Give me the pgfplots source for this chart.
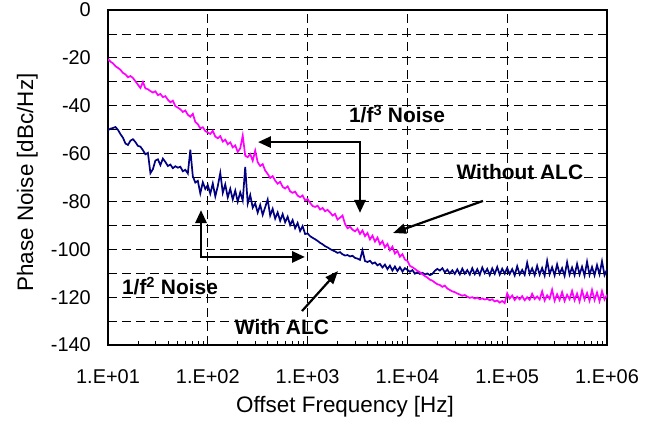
\documentclass[border=0pt]{standalone}
\usepackage{pgfplots}
\pgfplotsset{compat=1.18}
\usepackage{pgfplotstable}
\usepackage{fontspec}
\setmainfont{Liberation Sans}
\usetikzlibrary{arrows.meta}
\definecolor{pinkc}{HTML}{FF00FF}
\definecolor{navyc}{HTML}{000080}

\pgfplotstableread{
f wo w
10.00 -20.5 -50.2
10.59 -21.6 -49.6
11.22 -22.3 -49.3
11.89 -23.5 -48.9
12.59 -24.2 -50.1
13.34 -25.0 -51.9
14.13 -26.3 -53.4
14.96 -26.9 -55.8
15.85 -28.1 -56.4
16.79 -27.6 -54.6
17.78 -28.4 -54.0
18.84 -29.8 -55.2
19.95 -31.2 -56.8
21.13 -32.6 -57.1
22.39 -30.1 -58.6
23.71 -32.8 -60.3
25.12 -33.1 -59.7
26.61 -33.9 -68.2
28.18 -34.5 -66.5
29.85 -34.0 -62.9
31.62 -35.6 -62.4
33.50 -35.1 -64.8
35.48 -36.4 -62.1
37.58 -36.0 -63.5
39.81 -37.5 -65.2
42.17 -38.6 -64.6
44.67 -37.9 -66.1
47.32 -40.2 -65.3
50.12 -40.8 -65.9
53.09 -41.5 -65.5
56.23 -42.6 -67.4
59.57 -42.0 -66.8
63.10 -43.8 -68.3
66.83 -44.6 -58.4
70.79 -43.4 -69.5
74.99 -46.8 -72.1
79.43 -47.7 -71.4
84.14 -49.5 -76.6
89.13 -49.0 -72.0
94.41 -50.6 -74.8
100.0 -51.2 -73.2
105.9 -51.8 -76.8
112.2 -50.5 -72.5
118.9 -52.9 -77.9
125.9 -53.6 -73.6
133.4 -52.7 -68.1
141.3 -55.0 -76.4
149.6 -54.2 -72.9
158.5 -56.1 -78.3
167.9 -55.3 -74.7
177.8 -57.4 -79.2
188.4 -56.6 -75.5
199.5 -59.3 -80.1
211.3 -57.8 -76.2
223.9 -52.5 -79.6
237.1 -60.9 -65.6
251.2 -61.5 -80.9
266.1 -60.2 -77.3
281.8 -63.0 -82.6
298.5 -58.8 -80.8
316.2 -63.6 -84.7
335.0 -65.2 -81.5
354.8 -64.4 -85.6
375.8 -67.1 -82.4
398.1 -68.5 -79.2
421.7 -70.2 -85.9
446.7 -69.4 -83.1
473.2 -71.3 -87.2
501.2 -72.6 -84.6
530.9 -71.8 -88.1
562.3 -73.9 -85.3
595.7 -74.6 -88.7
631.0 -73.7 -86.4
668.3 -75.8 -89.9
707.9 -76.4 -87.8
749.9 -75.9 -91.2
794.3 -77.6 -89.0
841.4 -78.2 -92.4
891.3 -77.5 -90.3
944.1 -79.6 -93.6
1000 -79.0 -93.4
1059 -80.6 -94.5
1122 -81.9 -95.2
1189 -82.3 -95.8
1259 -81.8 -96.5
1334 -83.4 -97.3
1413 -82.7 -97.9
1496 -84.1 -98.7
1585 -83.5 -99.2
1679 -84.6 -99.9
1778 -85.9 -100.4
1884 -85.2 -100.9
1995 -87.6 -101.5
2113 -86.8 -101.2
2239 -85.9 -102.1
2371 -89.4 -102.6
2512 -91.2 -102.4
2661 -90.6 -103.0
2818 -91.8 -102.7
2985 -92.5 -103.6
3162 -91.4 -103.9
3350 -93.6 -104.4
3548 -92.1 -100.4
3758 -94.5 -104.9
3981 -93.2 -105.3
4217 -95.9 -104.8
4467 -94.3 -106.0
4732 -96.8 -105.5
5012 -95.1 -106.7
5309 -97.9 -106.1
5623 -96.6 -107.6
5957 -99.2 -106.4
6310 -97.8 -108.3
6683 -100.4 -106.8
7079 -98.9 -108.9
7499 -101.8 -107.2
7943 -100.7 -109.1
8414 -103.1 -107.5
8913 -102.0 -109.3
9441 -104.3 -107.9
10000 -104.8 -108.6
10590 -106.9 -109.4
11220 -107.5 -108.7
11890 -108.2 -110.2
12590 -109.0 -109.6
13340 -109.6 -110.3
14130 -110.4 -109.8
14960 -111.2 -110.5
15850 -111.8 -110.1
16790 -112.7 -110.8
17780 -113.1 -110.3
18840 -113.9 -109.0
19950 -114.6 -108.2
21130 -114.9 -108.9
22390 -115.7 -107.9
23710 -115.2 -109.6
25120 -116.4 -108.5
26610 -117.0 -110.1
28180 -117.6 -108.8
29850 -117.9 -110.3
31620 -118.5 -108.4
33500 -118.9 -110.5
35480 -119.4 -108.1
37580 -119.1 -110.2
39810 -119.8 -108.7
42170 -120.3 -110.6
44670 -120.0 -107.9
47320 -120.6 -110.4
50120 -120.2 -108.3
53090 -120.9 -110.7
56230 -120.5 -107.6
59570 -121.0 -110.0
63100 -120.7 -108.2
66830 -121.3 -110.8
70790 -120.9 -108.0
74990 -121.8 -110.3
79430 -121.4 -107.4
84140 -122.3 -110.6
89130 -121.6 -108.1
94410 -122.5 -110.2
100000 -118.4 -107.8
105900 -120.6 -110.4
112200 -119.3 -108.3
118900 -121.2 -110.9
125900 -119.8 -107.1
133400 -120.9 -110.5
141300 -119.6 -108.6
149600 -121.3 -110.7
158500 -120.0 -105.6
167900 -121.1 -110.3
177800 -118.6 -108.0
188400 -120.8 -110.8
199500 -119.7 -106.9
211300 -121.0 -110.6
223900 -117.6 -107.8
237100 -121.4 -111.0
251200 -119.2 -104.8
266100 -120.7 -110.4
281800 -116.9 -107.5
298500 -121.5 -110.9
316200 -118.8 -106.3
335000 -121.2 -110.2
354800 -117.9 -107.9
375800 -121.6 -111.1
398100 -119.0 -105.4
421700 -120.9 -110.6
446700 -117.4 -107.6
473200 -121.3 -110.8
501200 -118.5 -106.1
530900 -121.8 -110.5
562300 -117.2 -107.3
595700 -121.0 -111.0
631000 -118.3 -105.2
668300 -121.5 -110.7
707900 -117.0 -107.4
749900 -121.2 -110.9
794300 -118.1 -106.6
841400 -121.7 -110.4
891300 -117.5 -105.0
944100 -121.0 -110.8
1000000 -119.0 -108.5
}\noisedata

\begin{document}
\begin{tikzpicture}
\begin{axis}[
  scale only axis,
  width=499bp, height=335bp,
  xmode=log,
  xmin=10, xmax=1000000,
  ymin=-140, ymax=0,
  xtick={10,100,1000,10000,100000,1000000},
  xticklabels={1.E+01,1.E+02,1.E+03,1.E+04,1.E+05,1.E+06},
  ytick={-140,-120,-100,-80,-60,-40,-20,0},
  yticklabels={-140,-120,-100,-80,-60,-40,-20,0},
  minor ytick={-130,-110,-90,-70,-50,-30,-10},
  xmajorgrids, ymajorgrids, yminorgrids,
  grid style={black, line width=0.8bp, dash pattern=on 9bp off 5bp},
  minor grid style={black, line width=0.8bp, dash pattern=on 9bp off 5bp},
  axis line style={black, line width=1.2bp},
  tick align=inside,
  xtick pos=bottom, ytick pos=left,
  major tick length=7bp, minor tick length=4bp,
  tick style={black, line width=0.8bp},
  ticklabel style={font=\fontsize{20}{24}\selectfont},
  xticklabel style={anchor=north, inner sep=0pt, yshift=-24bp},
  yticklabel style={anchor=east, inner sep=0pt, xshift=-17bp},
  xlabel={Offset Frequency [Hz]},
  ylabel={Phase Noise [dBc/Hz]},
  label style={font=\fontsize{22.5}{26}\selectfont},
  xlabel style={at={(axis description cs:0.475,-0.2)}, anchor=base, inner sep=0pt},
  ylabel style={at={(axis description cs:-0.1503,0.485)}, anchor=base, rotate=0, inner sep=0pt},
]
\addplot[navyc, line width=1.7bp, no marks] table[x=f, y=w] {\noisedata};
\addplot[pinkc, line width=1.7bp, no marks] table[x=f, y=wo] {\noisedata};

\draw[black, line width=2.8bp, {Triangle[length=13bp,width=11bp]}-{Triangle[length=13bp,width=11bp]}]
  (axis cs:318,-55.2) -- (axis cs:3350,-55.2) -- (axis cs:3350,-84.8);
\draw[black, line width=2.8bp, {Triangle[length=13bp,width=11bp]}-{Triangle[length=13bp,width=11bp]}]
  (axis cs:85.5,-83.6) -- (axis cs:85.5,-103.2) -- (axis cs:942,-103.2);
\draw[black, line width=2.2bp, -{Triangle[length=13bp,width=10bp]}]
  (axis cs:879,-125.8) -- (axis cs:2018,-109.1);
\draw[black, line width=2.2bp, -{Triangle[length=13bp,width=10bp]}]
  (axis cs:57100,-79.8) -- (axis cs:7180,-93.2);

\node[anchor=base, inner sep=0pt, font=\fontsize{21}{25}\selectfont\bfseries] at (axis cs:7870,-47.2) {1/f\textsuperscript{3} Noise};
\node[anchor=base, inner sep=0pt, font=\fontsize{21}{25}\selectfont\bfseries] at (axis cs:41.8,-119.1) {1/f\textsuperscript{2} Noise};
\node[anchor=base, inner sep=0pt, font=\fontsize{21}{25}\selectfont\bfseries] at (axis cs:553,-135.8) {With ALC};
\node[anchor=base, inner sep=0pt, font=\fontsize{21}{25}\selectfont\bfseries] at (axis cs:134000,-71.0) {Without ALC};
\end{axis}
\pgfresetboundingbox
\useasboundingbox (-108bp,-76bp) rectangle (547bp,345bp);
\end{tikzpicture}
\end{document}
